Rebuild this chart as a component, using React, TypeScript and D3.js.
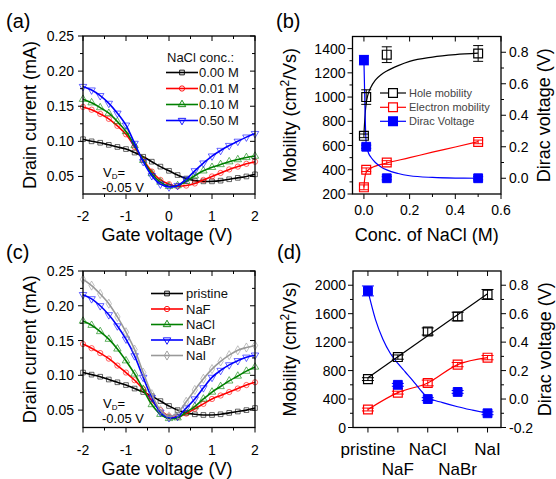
import React from "react";
import * as d3 from "d3";

const FONT = "'Liberation Sans', Arial, Helvetica, sans-serif";

// ---------- Panel (a) / (c): transfer curves ----------
const gateVoltage = [-2, -1.8, -1.6, -1.4, -1.2, -1.0, -0.8, -0.6, -0.4, -0.2, 0, 0.2, 0.4, 0.6, 0.8, 1.0, 1.2, 1.4, 1.6, 1.8, 2.0];

const nacl000 = [0.103, 0.1, 0.098, 0.095, 0.092, 0.089, 0.084, 0.078, 0.071, 0.064, 0.058, 0.052, 0.047, 0.044, 0.043, 0.043, 0.044, 0.046, 0.048, 0.05, 0.053];
const nacl001 = [0.149, 0.145, 0.139, 0.132, 0.122, 0.11, 0.092, 0.074, 0.057, 0.045, 0.039, 0.036, 0.037, 0.04, 0.045, 0.05, 0.055, 0.06, 0.064, 0.068, 0.071];
const nacl010 = [0.16, 0.155, 0.148, 0.14, 0.128, 0.114, 0.094, 0.073, 0.054, 0.042, 0.036, 0.037, 0.043, 0.051, 0.058, 0.063, 0.067, 0.071, 0.074, 0.077, 0.079];
const nacl050 = [0.178, 0.173, 0.165, 0.154, 0.14, 0.123, 0.097, 0.071, 0.051, 0.039, 0.035, 0.037, 0.046, 0.058, 0.069, 0.079, 0.087, 0.094, 0.1, 0.106, 0.111];

const pristine = [0.104, 0.101, 0.098, 0.094, 0.09, 0.086, 0.081, 0.076, 0.07, 0.063, 0.056, 0.05, 0.046, 0.044, 0.043, 0.043, 0.044, 0.046, 0.048, 0.05, 0.053];
const naF = [0.145, 0.139, 0.132, 0.124, 0.114, 0.104, 0.093, 0.08, 0.064, 0.05, 0.041, 0.04, 0.045, 0.052, 0.059, 0.066, 0.071, 0.076, 0.081, 0.086, 0.09];
const naCl = [0.178, 0.172, 0.163, 0.152, 0.138, 0.121, 0.102, 0.08, 0.058, 0.044, 0.038, 0.039, 0.047, 0.055, 0.066, 0.076, 0.084, 0.092, 0.099, 0.106, 0.112];
const naBr = [0.216, 0.21, 0.2, 0.187, 0.171, 0.152, 0.128, 0.097, 0.068, 0.047, 0.039, 0.041, 0.053, 0.066, 0.082, 0.097, 0.107, 0.115, 0.121, 0.126, 0.129];
const naI = [0.238, 0.229, 0.217, 0.203, 0.184, 0.162, 0.137, 0.104, 0.073, 0.05, 0.041, 0.046, 0.062, 0.079, 0.095, 0.109, 0.12, 0.129, 0.136, 0.14, 0.143];

const concLegend = ["0.00 M", "0.01 M", "0.10 M", "0.50 M"];
const saltLegend = ["pristine", "NaF", "NaCl", "NaBr", "NaI"];

const gateMajor = [-2, -1, 0, 1, 2];
const gateMinor = [-1.5, -0.5, 0.5, 1.5];
const currentMajor = [0.05, 0.1, 0.15, 0.2, 0.25];
const currentMinor = [0.075, 0.125, 0.175, 0.225];

// ---------- Panel (b) ----------
const concs = [0, 0.01, 0.1, 0.5];
const holeMobB = [680, 1000, 1350, 1360];
const holeErrB = [15, 60, 65, 65];
const elecMobB = [255, 400, 460, 630];
const elecErrB = [20, 15, 15, 15];
const diracB = [0.75, 0.2, 0.0, 0.0];
const diracErrB = [0.03, 0.01, 0.01, 0.01];

const holeFitConc = [0, 0.005, 0.01, 0.015, 0.02, 0.03, 0.05, 0.075, 0.1, 0.15, 0.2, 0.3, 0.4, 0.5];
const holeFitB = [690, 850, 950, 1000, 1035, 1080, 1140, 1185, 1215, 1260, 1295, 1330, 1350, 1362];
const elecFitConc = [0, 0.003, 0.006, 0.01, 0.02, 0.04, 0.07, 0.1, 0.2, 0.3, 0.4, 0.5];
const elecFitB = [255, 320, 355, 378, 400, 423, 442, 456, 500, 545, 588, 632];
const diracFitConc = [0, 0.002, 0.005, 0.01, 0.02, 0.03, 0.05, 0.075, 0.1, 0.15, 0.2, 0.3, 0.4, 0.5];
const diracFitB = [0.75, 0.62, 0.42, 0.22, 0.16, 0.135, 0.1, 0.072, 0.053, 0.03, 0.016, 0.005, 0.001, 0.0];

const concMajor = [0, 0.2, 0.4, 0.6];
const concMinor = [0.1, 0.3, 0.5];
const mobBMajor = [200, 400, 600, 800, 1000, 1200, 1400];
const mobBMinor = [300, 500, 700, 900, 1100, 1300];
const diracBMajor = [0, 0.2, 0.4, 0.6, 0.8];
const diracBMinor = [0.1, 0.3, 0.5, 0.7];
const legendB = ["Hole mobility", "Electron mobility", "Dirac Voltage"];

// ---------- Panel (d) ----------
const salts = ["pristine", "NaF", "NaCl", "NaBr", "NaI"];
const holeMobD = [680, 990, 1350, 1560, 1870];
const holeErrD = [20, 30, 50, 60, 70];
const elecMobD = [253, 490, 626, 884, 982];
const elecErrD = [20, 20, 40, 30, 30];
const diracD = [0.76, 0.1, 0.0, 0.05, -0.1];
const diracErrD = [0.035, 0.01, 0.01, 0.01, 0.01];
const diracFitIdx = [0, 0.25, 0.5, 0.75, 1, 1.25, 1.5, 1.75, 2, 2.5, 3, 3.5, 4];
const diracFitD = [0.76, 0.56, 0.42, 0.32, 0.25, 0.19, 0.13, 0.065, 0.01, -0.025, -0.054, -0.078, -0.1];

const mobDMajor = [0, 400, 800, 1200, 1600, 2000];
const mobDMinor = [200, 600, 1000, 1400, 1800];
const diracDMajor = [-0.2, 0, 0.2, 0.4, 0.6, 0.8];
const diracDMinor = [-0.1, 0.1, 0.3, 0.5, 0.7];

// ---------- helpers ----------
type Frame = { left: number; right: number; top: number; bottom: number };

function Ticks({ values, scale, side, frame, len, out }: any) {
  return (
    <g stroke="#000" strokeWidth={1}>
      {values.map((v: number, i: number) => {
        const p = scale(v);
        let x1 = 0, y1 = 0, x2 = 0, y2 = 0;
        if (side === "bottom") { x1 = x2 = p; y1 = frame.bottom; y2 = frame.bottom + len * out; }
        if (side === "top") { x1 = x2 = p; y1 = frame.top; y2 = frame.top - len * out; }
        if (side === "left") { y1 = y2 = p; x1 = frame.left; x2 = frame.left - len * out; }
        if (side === "right") { y1 = y2 = p; x1 = frame.right; x2 = frame.right + len * out; }
        return <line key={i} x1={x1} y1={y1} x2={x2} y2={y2} />;
      })}
    </g>
  );
}

const downTriangle = {
  draw(context: any, size: number) {
    const s = Math.sqrt(size / (Math.sqrt(3) / 4));
    const h = (s * Math.sqrt(3)) / 2;
    context.moveTo(0, (h * 2) / 3);
    context.lineTo(s / 2, -h / 3);
    context.lineTo(-s / 2, -h / 3);
    context.closePath();
  },
};

function symbolPath(shape: string, size: number) {
  const t: any =
    shape === "square" ? d3.symbolSquare :
    shape === "circle" ? d3.symbolCircle :
    shape === "up" ? d3.symbolTriangle :
    shape === "down" ? downTriangle : d3.symbolDiamond;
  return d3.symbol().type(t).size(size)() as string;
}

function Frame({ f }: { f: Frame }) {
  return <rect x={f.left} y={f.top} width={f.right - f.left} height={f.bottom - f.top} fill="none" stroke="#000" strokeWidth={1.3} />;
}

// ---------- transfer-curve panel ----------
function TransferPanel({ f, series, labels, legendTitle, legend }: any) {
  const x = d3.scaleLinear().domain([-2, 2]).range([f.left, f.right]);
  const y = d3.scaleLinear().domain([0.025, 0.25]).range([f.bottom, f.top]);
  const line = d3.line<number>().x((_, i) => x(gateVoltage[i])).y((d) => y(d)).curve(d3.curveCatmullRom.alpha(0.5));
  const mpath = (s: string) => symbolPath(s, s === "circle" ? 22 : s === "square" ? 22 : 24);
  return (
    <g>
      {series.map((s: any, k: number) => (
        <g key={k}>
          <path d={line(s.values) as string} fill="none" stroke={s.color} strokeWidth={1.6} />
          {s.values.map((v: number, i: number) => (
            <path key={i} d={mpath(s.shape)} transform={`translate(${x(gateVoltage[i])},${y(v)})`} fill="none" stroke={s.color} strokeOpacity={0.75} strokeWidth={0.8} />
          ))}
        </g>
      ))}
      <Frame f={f} />
      <Ticks values={gateMajor} scale={x} side="bottom" frame={f} len={5} out={1} />
      <Ticks values={gateMinor} scale={x} side="bottom" frame={f} len={3} out={1} />
      <Ticks values={gateMajor} scale={x} side="top" frame={f} len={5} out={-1} />
      <Ticks values={gateMinor} scale={x} side="top" frame={f} len={3} out={-1} />
      <Ticks values={currentMajor} scale={y} side="left" frame={f} len={5} out={1} />
      <Ticks values={currentMinor} scale={y} side="left" frame={f} len={3} out={1} />
      <Ticks values={currentMajor} scale={y} side="right" frame={f} len={5} out={-1} />
      <Ticks values={currentMinor} scale={y} side="right" frame={f} len={3} out={-1} />
      <g fontSize={14} fill="#000">
        {gateMajor.map((v) => (
          <text key={v} x={x(v)} y={f.bottom + 27} textAnchor="middle">{v}</text>
        ))}
        {currentMajor.map((v) => (
          <text key={v} x={f.left - 9} y={y(v)} dy="0.36em" textAnchor="end">{v.toFixed(2)}</text>
        ))}
      </g>
      <text x={(f.left + f.right) / 2 - 2} y={labels.xTitleY} fontSize={18} textAnchor="middle">Gate voltage (V)</text>
      <text transform={`translate(36,${(f.top + f.bottom) / 2}) rotate(-90)`} fontSize={18} textAnchor="middle">Drain current (mA)</text>
      <text x={103} y={labels.vdY} fontSize={13}>V<tspan fontSize={8} dy={1.5}>D</tspan><tspan dy={-1.5}>=</tspan></text>
      <text x={102} y={labels.vdY + 15} fontSize={13}>-0.05 V</text>
      {legendTitle && <text x={167} y={61.5} fontSize={13} fill="#111">{legendTitle}</text>}
      {legend.items.map((name: string, k: number) => {
        const cy = legend.y0 + k * legend.dy;
        const s = series[k];
        return (
          <g key={k}>
            <line x1={legend.x1} x2={legend.x2} y1={cy} y2={cy} stroke={s.color} strokeWidth={1.6} />
            <path d={mpath(s.shape)} transform={`translate(${(legend.x1 + legend.x2) / 2},${cy})`} fill="none" stroke={s.color} strokeWidth={0.9} />
            <text x={legend.tx} y={cy} dy="0.35em" fontSize={13} fill="#111">{name}</text>
          </g>
        );
      })}
    </g>
  );
}

function ErrBar({ cx, y1, y2, color, w }: any) {
  return (
    <g stroke={color} strokeWidth={1}>
      <line x1={cx} x2={cx} y1={y1} y2={y2} />
      <line x1={cx - w} x2={cx + w} y1={y1} y2={y1} />
      <line x1={cx - w} x2={cx + w} y1={y2} y2={y2} />
    </g>
  );
}

function MobilityTitles({ f, leftX, rightX }: any) {
  const cy = (f.top + f.bottom) / 2;
  return (
    <g fontSize={18}>
      <text transform={`translate(${leftX},${cy}) rotate(-90)`} textAnchor="middle">
        Mobility (cm<tspan fontSize={12} dy={-7}>2</tspan><tspan dy={7}>/Vs)</tspan>
      </text>
      <text transform={`translate(${rightX},${cy}) rotate(-90)`} textAnchor="middle">Dirac voltage (V)</text>
    </g>
  );
}

function PanelB({ f }: { f: Frame }) {
  const x = d3.scaleLinear().domain([-0.05, 0.6]).range([f.left, f.right]);
  const yL = d3.scaleLinear().domain([200, 1500]).range([f.bottom, f.top]);
  const yR = d3.scaleLinear().domain([-0.1, 0.9]).range([f.bottom, f.top]);
  const sq = symbolPath("square", 78);
  const holeLine = d3.line<number>().x((_, i) => x(holeFitConc[i])).y((d) => yL(d)).curve(d3.curveMonotoneX);
  const elecLine = d3.line<number>().x((_, i) => x(elecFitConc[i])).y((d) => yL(d)).curve(d3.curveMonotoneX);
  const diracLine = d3.line<number>().x((_, i) => x(diracFitConc[i])).y((d) => yR(d)).curve(d3.curveMonotoneX);
  const lg = { x1: 380, x2: 406, tx: 409, ys: [93, 107.3, 121.3] };
  return (
    <g>
      <path d={holeLine(holeFitB) as string} fill="none" stroke="#000" strokeWidth={1.2} />
      <path d={elecLine(elecFitB) as string} fill="none" stroke="#ff0000" strokeWidth={1.2} />
      <path d={diracLine(diracFitB) as string} fill="none" stroke="#0000ff" strokeWidth={1.2} />
      {concs.map((c, i) => (
        <g key={i}>
          <ErrBar cx={x(c)} y1={yL(holeMobB[i] - holeErrB[i])} y2={yL(holeMobB[i] + holeErrB[i])} color="#000" w={5} />
          <path d={sq} transform={`translate(${x(c)},${yL(holeMobB[i])})`} fill="none" stroke="#000" strokeWidth={1.2} />
          <ErrBar cx={x(c)} y1={yL(elecMobB[i] - elecErrB[i])} y2={yL(elecMobB[i] + elecErrB[i])} color="#ff0000" w={5} />
          <path d={sq} transform={`translate(${x(c)},${yL(elecMobB[i])})`} fill="none" stroke="#ff0000" strokeWidth={1.2} />
          <ErrBar cx={x(c)} y1={yR(diracB[i] - diracErrB[i])} y2={yR(diracB[i] + diracErrB[i])} color="#0000ff" w={5} />
          <path d={sq} transform={`translate(${x(c)},${yR(diracB[i])})`} fill="#0000ff" stroke="#0000ff" strokeWidth={1} />
        </g>
      ))}
      <Frame f={f} />
      <Ticks values={concMajor} scale={x} side="bottom" frame={f} len={5} out={1} />
      <Ticks values={concMinor} scale={x} side="bottom" frame={f} len={3} out={1} />
      <Ticks values={concMajor} scale={x} side="top" frame={f} len={5} out={-1} />
      <Ticks values={concMinor} scale={x} side="top" frame={f} len={3} out={-1} />
      <Ticks values={mobBMajor} scale={yL} side="left" frame={f} len={5} out={1} />
      <Ticks values={mobBMinor} scale={yL} side="left" frame={f} len={3} out={1} />
      <Ticks values={diracBMajor} scale={yR} side="right" frame={f} len={5} out={1} />
      <Ticks values={diracBMinor} scale={yR} side="right" frame={f} len={3} out={1} />
      <g fontSize={14} fill="#000">
        {concMajor.map((v) => (
          <text key={v} x={x(v)} y={f.bottom + 21} textAnchor="middle">{v.toFixed(1)}</text>
        ))}
        {mobBMajor.map((v) => (
          <text key={v} x={f.left - 7} y={yL(v)} dy="0.36em" textAnchor="end">{v}</text>
        ))}
        {diracBMajor.map((v) => (
          <text key={v} x={f.right + 8} y={yR(v)} dy="0.36em" textAnchor="start">{v.toFixed(1)}</text>
        ))}
      </g>
      <text x={(f.left + f.right) / 2} y={241} fontSize={18} textAnchor="middle">Conc. of NaCl (M)</text>
      <MobilityTitles f={f} leftX={296} rightX={550} />
      {legendB.map((name, k) => {
        const cy = lg.ys[k];
        const color = k === 0 ? "#000" : k === 1 ? "#ff0000" : "#0000ff";
        const mx = (lg.x1 + lg.x2) / 2;
        return (
          <g key={k}>
            <line x1={lg.x1} x2={lg.x2} y1={cy} y2={cy} stroke={color} strokeWidth={1.2} />
            <path d={sq} transform={`translate(${mx},${cy})`} fill={k === 2 ? "#0000ff" : "#fff"} stroke={color} strokeWidth={1.2} />
            <text x={lg.tx} y={cy} dy="0.36em" fontSize={11} fill="#444">{name}</text>
          </g>
        );
      })}
    </g>
  );
}

function PanelD({ f }: { f: Frame }) {
  const idx = salts.map((_, i) => i);
  const x = d3.scaleLinear().domain([-0.5, 4.45]).range([f.left, f.right]);
  const yL = d3.scaleLinear().domain([0, 2200]).range([f.bottom, f.top]);
  const yR = d3.scaleLinear().domain([-0.2, 0.9]).range([f.bottom, f.top]);
  const sq = symbolPath("square", 78);
  // linear fit for hole mobility
  const mx = d3.mean(idx) as number;
  const my = d3.mean(holeMobD) as number;
  const slope = d3.sum(idx, (v, i) => (v - mx) * (holeMobD[i] - my)) / d3.sum(idx, (v) => (v - mx) ** 2);
  const icpt = my - slope * mx;
  const elecLine = d3.line<number>().x((_, i) => x(i)).y((d) => yL(d)).curve(d3.curveMonotoneX);
  const diracLine = d3.line<number>().x((_, i) => x(diracFitIdx[i])).y((d) => yR(d)).curve(d3.curveMonotoneX);
  return (
    <g>
      <line x1={x(0)} x2={x(4)} y1={yL(icpt)} y2={yL(icpt + slope * 4)} stroke="#000" strokeWidth={1.2} />
      <path d={elecLine(elecMobD) as string} fill="none" stroke="#ff0000" strokeWidth={1.2} />
      <path d={diracLine(diracFitD) as string} fill="none" stroke="#0000ff" strokeWidth={1.2} />
      {salts.map((_, i) => (
        <g key={i}>
          <ErrBar cx={x(i)} y1={yL(holeMobD[i] - holeErrD[i])} y2={yL(holeMobD[i] + holeErrD[i])} color="#000" w={6} />
          <path d={sq} transform={`translate(${x(i)},${yL(holeMobD[i])})`} fill="none" stroke="#000" strokeWidth={1.2} />
          <ErrBar cx={x(i)} y1={yL(elecMobD[i] - elecErrD[i])} y2={yL(elecMobD[i] + elecErrD[i])} color="#ff0000" w={6} />
          <path d={sq} transform={`translate(${x(i)},${yL(elecMobD[i])})`} fill="none" stroke="#ff0000" strokeWidth={1.2} />
          <ErrBar cx={x(i)} y1={yR(diracD[i] - diracErrD[i])} y2={yR(diracD[i] + diracErrD[i])} color="#0000ff" w={6} />
          <path d={sq} transform={`translate(${x(i)},${yR(diracD[i])})`} fill="#0000ff" stroke="#0000ff" strokeWidth={1} />
        </g>
      ))}
      <Frame f={f} />
      <Ticks values={idx} scale={x} side="bottom" frame={f} len={5} out={1} />
      <Ticks values={idx} scale={x} side="top" frame={f} len={5} out={-1} />
      <Ticks values={mobDMajor} scale={yL} side="left" frame={f} len={5} out={1} />
      <Ticks values={mobDMinor} scale={yL} side="left" frame={f} len={3} out={1} />
      <Ticks values={diracDMajor} scale={yR} side="right" frame={f} len={5} out={1} />
      <Ticks values={diracDMinor} scale={yR} side="right" frame={f} len={3} out={1} />
      <g fontSize={14} fill="#000">
        {mobDMajor.map((v) => (
          <text key={v} x={f.left - 7} y={yL(v)} dy="0.36em" textAnchor="end">{v}</text>
        ))}
        {diracDMajor.map((v) => (
          <text key={v} x={f.right + 8} y={yR(v)} dy="0.36em" textAnchor="start">{v.toFixed(1)}</text>
        ))}
      </g>
      <g fontSize={17} fill="#000">
        {salts.map((s, i) => (
          <text key={s} x={x(i)} y={i % 2 === 0 ? 455 : 475} textAnchor="middle">{s}</text>
        ))}
      </g>
      <MobilityTitles f={f} leftX={296} rightX={551} />
    </g>
  );
}

export default function App() {
  const fa: Frame = { left: 83, right: 255, top: 36, bottom: 194 };
  const fc: Frame = { left: 83, right: 255, top: 271, bottom: 427.5 };
  const fb: Frame = { left: 352.5, right: 501, top: 36.5, bottom: 194 };
  const fd: Frame = { left: 353, right: 501, top: 271, bottom: 427.5 };

  const seriesA = [
    { values: nacl000, color: "#000000", shape: "square" },
    { values: nacl001, color: "#ff0000", shape: "circle" },
    { values: nacl010, color: "#008000", shape: "up" },
    { values: nacl050, color: "#0000ff", shape: "down" },
  ];
  const seriesC = [
    { values: pristine, color: "#000000", shape: "square" },
    { values: naF, color: "#ff0000", shape: "circle" },
    { values: naCl, color: "#008000", shape: "up" },
    { values: naBr, color: "#0000ff", shape: "down" },
    { values: naI, color: "#999999", shape: "diamond" },
  ];

  return (
    <svg width={556} height={479} viewBox="0 0 556 479" style={{ position: "absolute", left: 0, top: 0, background: "#fff" }} fontFamily={FONT}>
      <rect x={0} y={0} width={556} height={479} fill="#fff" />
      <TransferPanel
        f={fa}
        series={seriesA}
        labels={{ xTitleY: 241, vdY: 177 }}
        legendTitle="NaCl conc.:"
        legend={{ items: concLegend, y0: 72.5, dy: 16, x1: 166, x2: 198, tx: 199 }}
      />
      <TransferPanel
        f={fc}
        series={seriesC}
        labels={{ xTitleY: 475, vdY: 408 }}
        legendTitle={null}
        legend={{ items: saltLegend, y0: 293.5, dy: 15.5, x1: 151, x2: 183, tx: 186 }}
      />
      <PanelB f={fb} />
      <PanelD f={fd} />
      <g fontSize={20} fill="#000">
        <text x={6} y={28}>(a)</text>
        <text x={276} y={28}>(b)</text>
        <text x={6} y={259}>(c)</text>
        <text x={277} y={259}>(d)</text>
      </g>
    </svg>
  );
}
